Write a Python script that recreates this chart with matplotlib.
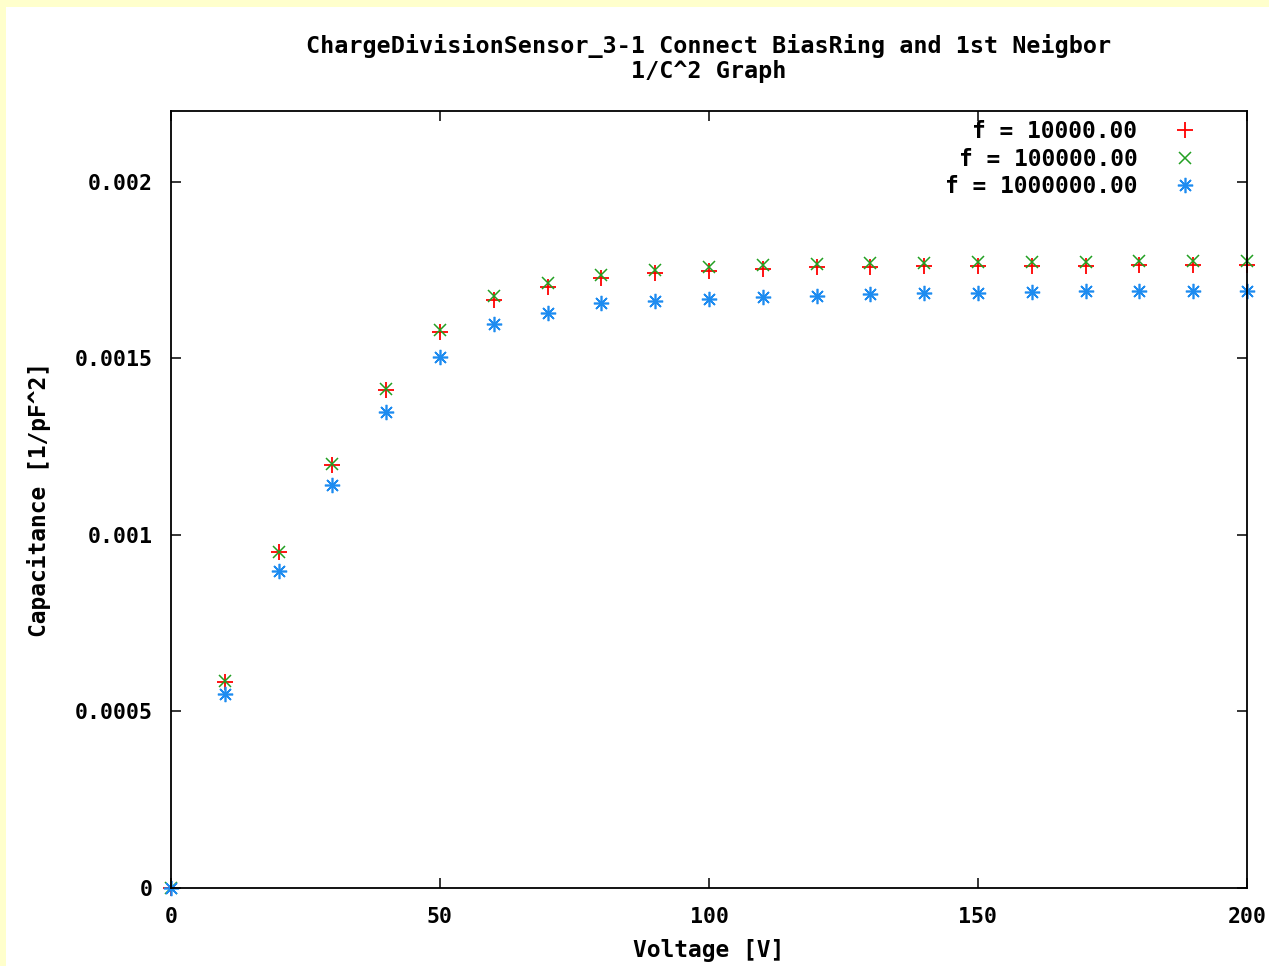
import numpy as np
import matplotlib.pyplot as plt
from matplotlib.patches import Rectangle

voltage = [0, 10, 20, 30, 40, 50, 60, 70, 80, 90, 100,
           110, 120, 130, 140, 150, 160, 170, 180, 190, 200]

c_10k = [0.0, 0.000584, 0.000950, 0.001197, 0.001409, 0.001574, 0.001665,
         0.001703, 0.001726, 0.001740, 0.001748, 0.001754, 0.001757,
         0.001759, 0.001760, 0.001761, 0.001761, 0.001762, 0.001763,
         0.001763, 0.001764]
c_100k = [0.0, 0.000586, 0.000952, 0.001200, 0.001414, 0.001580, 0.001676,
          0.001712, 0.001736, 0.001750, 0.001758, 0.001765, 0.001768,
          0.001770, 0.001771, 0.001772, 0.001772, 0.001773, 0.001774,
          0.001774, 0.001775]
c_1M = [0.0, 0.000548, 0.000898, 0.001142, 0.001349, 0.001503, 0.001596,
        0.001629, 0.001655, 0.001662, 0.001668, 0.001672, 0.001677,
        0.001681, 0.001684, 0.001686, 0.001688, 0.001689, 0.001690,
        0.001690, 0.001690]

labels = ["f = 10000.00", "f = 100000.00", "f = 1000000.00"]

plt.rcParams['font.family'] = ['DejaVu Sans Mono']
plt.rcParams['font.weight'] = 'bold'
plt.rcParams['font.size'] = 16.5

fig = plt.figure(figsize=(12.69, 9.66), dpi=100, facecolor='#ffffcc')
fig.patches.append(Rectangle((6 / 1269, 0), 1, 1 - 7 / 966, transform=fig.transFigure,
                             facecolor='white', edgecolor='none', zorder=-10))
ax = fig.add_axes([171 / 1269, 78 / 966, 1076 / 1269, 777 / 966])
ax.set_zorder(1)

ax.plot(voltage, c_10k, ls='none', marker='+', ms=11, mew=1.3, color='#ff0000',
        label=labels[0], clip_on=False)
ax.plot(voltage, c_100k, ls='none', marker='x', ms=9, mew=1.1, color='#22a022',
        label=labels[1], clip_on=False)
ax.plot(voltage, c_1M, ls='none', marker=(8, 2, 0), ms=11, mew=1.2, color='#1e8cf0',
        label=labels[2], clip_on=False)

ax.set_xlim(0, 200)
ax.set_ylim(0, 0.0022)
ax.set_xticks([0, 50, 100, 150, 200])
ax.set_yticks([0, 0.0005, 0.001, 0.0015, 0.002])
ax.set_yticklabels(["0", "0.0005", "0.001", "0.0015", "0.002"])
ax.tick_params(direction='in', length=7, width=1.1, top=True, right=True, labelsize=15.5)
ax.tick_params(axis='y', pad=13)
ax.tick_params(axis='x', pad=14)
for s in ax.spines.values():
    s.set_linewidth(1.3)

ax.set_title("ChargeDivisionSensor_3-1 Connect BiasRing and 1st Neigbor\n1/C^2 Graph",
             fontsize=16.8, fontweight='bold', pad=24, linespacing=1.12)
ax.set_xlabel("Voltage [V]", fontweight='bold', labelpad=8)
ax.set_ylabel("Capacitance [1/pF^2]", fontweight='bold', labelpad=17)

ax.legend(loc='upper right', markerfirst=False, frameon=False, handlelength=1.2,
          handletextpad=1.5, labelspacing=0.2, borderaxespad=0.1, borderpad=0.2,
          bbox_to_anchor=(0.962, 0.997))

plt.savefig('out.png', dpi=100, facecolor=fig.get_facecolor())
